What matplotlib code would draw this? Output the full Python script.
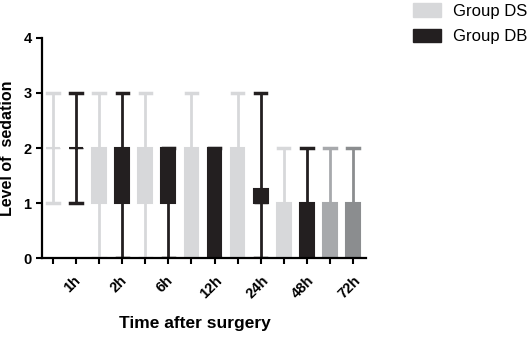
import matplotlib.pyplot as plt
from matplotlib.patches import Patch

plt.rcParams['font.family'] = ['Liberation Sans', 'DejaVu Sans']

# data (one box per group per time point)
times = ['1h', '2h', '6h', '12h', '24h', '48h', '72h']
box_lo = [1, 1, 0, 0, 0, 0, 0, 0, 0, 0, 0, 0, 0, 0]
box_q1 = [2, 2, 1, 1, 1, 1, 0, 0, 0, 1, 0, 0, 0, 0]
box_med = [2, 2, 2, 2, 2, 2, 1, 1, 1, 1, 1, 1, 1, 1]
box_q3 = [2, 2, 2, 2, 2, 2, 2, 2, 2, 1.25, 1, 1, 1, 1]
box_hi = [3, 3, 3, 3, 3, 2, 3, 2, 3, 3, 2, 2, 2, 2]
box_colors = ['#d7d8da', '#231f20'] * 6 + ['#a7a9ac', '#8b8d8f']

fig = plt.figure(figsize=(5.32, 3.45), dpi=100)
ax = fig.add_axes([0.079, 0.252, 0.609, 0.638])

stats = []
for i in range(len(box_q1)):
    stats.append(dict(med=box_med[i], q1=box_q1[i], q3=box_q3[i],
                      whislo=box_lo[i], whishi=box_hi[i], fliers=[]))

positions = list(range(len(stats)))
res = ax.bxp(stats, positions=positions, widths=0.6, patch_artist=True,
             showfliers=False, capwidths=0.5, manage_ticks=False)
for i, c in enumerate(box_colors):
    res['boxes'][i].set_facecolor(c)
    res['boxes'][i].set_edgecolor(c)
    res['boxes'][i].set_linewidth(1.5)
    res['medians'][i].set_color(c)
    for w in res['whiskers'][2 * i:2 * i + 2]:
        w.set_color(c)
        w.set_linewidth(2)
    for cp in res['caps'][2 * i:2 * i + 2]:
        cp.set_color(c)
        cp.set_linewidth(2.5)

ax.set_xlim(-0.48, 13.57)
ax.set_ylim(0, 4)
ax.set_yticks([0, 1, 2, 3, 4])
ax.set_xticks(positions)
ax.set_xticklabels([])
ax.set_xticks([2 * k + 0.5 + 0.35 for k in range(len(times))], minor=True)
ax.set_xticklabels(times, minor=True, rotation=45, ha='center',
                   fontsize=10.5, fontweight='bold')
ax.tick_params(axis='x', which='minor', length=0, pad=11)
ax.tick_params(axis='both', which='major', width=1.5, length=4,
               labelsize=10.5)
for lab in ax.get_yticklabels():
    lab.set_fontweight('bold')

for s in ['top', 'right']:
    ax.spines[s].set_visible(False)
for s in ['left', 'bottom']:
    ax.spines[s].set_linewidth(1.6)

ax.set_ylabel('Level of  sedation', fontsize=11.5, fontweight='bold')
ax.yaxis.set_label_coords(-0.083, 0.5)
ax.set_xlabel('Time after surgery', fontsize=12.5, fontweight='bold')
ax.xaxis.set_label_coords(0.472, -0.265)

handles = [Patch(facecolor='#d7d8da', edgecolor='#d7d8da'),
           Patch(facecolor='#231f20', edgecolor='#231f20')]
fig.legend(handles, ['Group DS', 'Group DB'], loc='upper left',
           bbox_to_anchor=(0.748, 1.035), frameon=False, fontsize=12,
           handlelength=1.7, handleheight=0.9, handletextpad=0.7,
           labelspacing=0.6)

fig.savefig('out.png', dpi=100)
